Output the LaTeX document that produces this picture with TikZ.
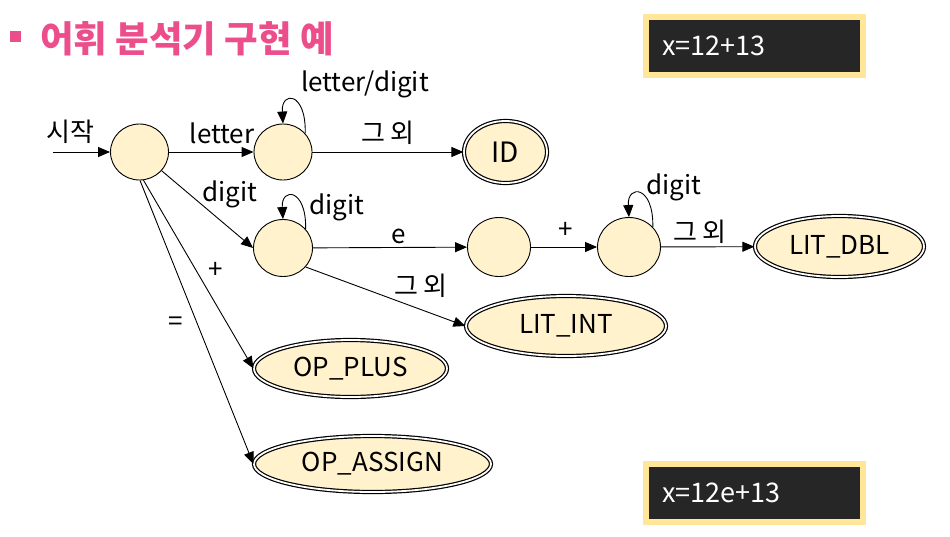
\documentclass[tikz,border=0pt]{standalone}
\usepackage{fontspec}
\setmainfont{Noto Sans CJK KR}
\usetikzlibrary{shapes.geometric,arrows.meta}
\definecolor{nodefill}{RGB}{255,242,204}
\definecolor{titlepink}{RGB}{236,78,139}
\definecolor{boxyellow}{RGB}{255,230,153}
\definecolor{boxdark}{RGB}{38,38,38}
\tikzset{
  state/.style={ellipse,draw=black,fill=nodefill,line width=0.9pt,inner sep=0pt,minimum width=58pt,minimum height=56pt},
  final/.style={ellipse,draw=black,fill=nodefill,double=white,double distance=1.8pt,line width=1.2pt,inner sep=0pt,font=\fontsize{26}{30}\selectfont},
  lbl/.style={inner sep=0pt,font=\fontsize{26}{30}\selectfont},
  conn/.style={line width=0.9pt,-{Triangle[length=12pt,width=10pt]}},
  codebox/.style={rectangle,draw=boxyellow,fill=boxdark,line width=6pt,minimum width=217pt,minimum height=58pt,inner sep=0pt},
  codetext/.style={anchor=west,inner sep=0pt,text=white,font=\fontsize{27}{30}\selectfont}
}
\begin{document}
\begin{tikzpicture}[x=1pt,y=-1pt]
\useasboundingbox (0,0) rectangle (950,536);
% title
\node[fill=titlepink,minimum size=11pt,inner sep=0pt] (bullet) at (15.5,36.5) {};
\node[anchor=west,inner sep=0pt,text=titlepink,font=\fontsize{36.5}{40}\selectfont\bfseries] (title) at (40,39) {어휘 분석기 구현 예};
% code boxes
\node[codebox] (box1) at (754.5,46) {};
\node[codetext] (code1) at (662,46) {x=12+13};
\node[codebox] (box2) at (754.5,493) {};
\node[codetext] (code2) at (662,493) {x=12e+13};
% states
\node[state] (s) at (139.5,152) {};
\node[state] (L) at (283,152) {};
\node[final,minimum width=83pt,minimum height=62pt,font=\fontsize{28}{30}\selectfont] (id) at (505.5,152) {ID};
\node[state,minimum width=59pt,minimum height=57pt] (D) at (283,248) {};
\node[state,minimum width=63pt,minimum height=59pt] (E) at (499,247) {};
\node[state,minimum width=63pt,minimum height=59pt] (F) at (629,247) {};
\node[final,minimum width=169pt,minimum height=61pt] (dbl) at (839.5,246.5) {LIT\_DBL};
\node[final,minimum width=200pt,minimum height=60pt] (int) at (566,326) {LIT\_INT};
\node[final,minimum width=193pt,minimum height=57pt] (plus) at (350.5,368.5) {OP\_PLUS};
\node[final,minimum width=237pt,minimum height=56pt] (assign) at (372.5,464) {OP\_ASSIGN};
\coordinate (in) at (53,152);
% connectors
\draw[conn] (in) -- (s.west);
\draw[conn] (s) -- (L);
\draw[conn] (L) -- (id);
\draw[conn] (s) -- (D.west);
\draw[conn] (D) -- (E);
\draw[conn] (E) -- (F);
\draw[conn] (F) -- (dbl);
\draw[conn] (D.-40) -- (int.west);
\draw[conn] (s.-82) -- (plus.west);
\draw[conn] (s.-89) -- (assign.west);
\draw[conn] (L.40) .. controls +(1,-42) and +(-2,-33) .. (L.north);
\draw[conn] (D.40) .. controls +(1,-41) and +(-2,-32) .. (D.north);
\draw[conn] (F.40) .. controls +(1,-42) and +(-2,-33) .. (F.north);
% labels
\node[lbl] (l0) at (70,132) {시작};
\node[lbl] (l1) at (222,133) {letter};
\node[lbl] (l2) at (365,84) {letter/digit};
\node[lbl] (l3) at (388,133) {그 외};
\node[lbl] (l4) at (230,194) {digit};
\node[lbl] (l5) at (337,207) {digit};
\node[lbl] (l6) at (399,236) {e};
\node[lbl] (l7) at (566,230) {+};
\node[lbl] (l8) at (674,187) {digit};
\node[lbl] (l9) at (700,232) {그 외};
\node[lbl] (l10) at (421,286) {그 외};
\node[lbl] (l11) at (216,270) {+};
\node[lbl] (l12) at (176,324) {=};
\end{tikzpicture}
\end{document}
